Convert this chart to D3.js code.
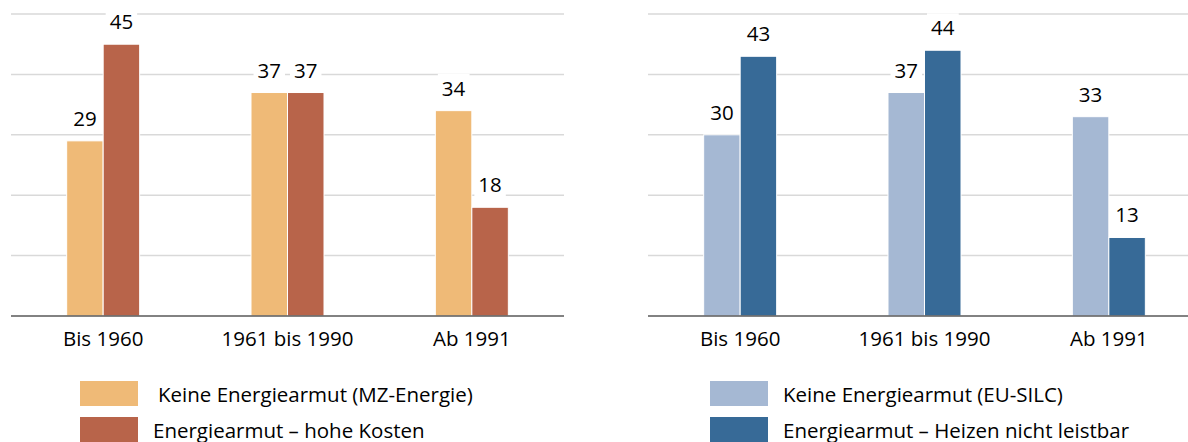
<!DOCTYPE html>
<html>
<head>
<meta charset="utf-8">
<script src="https://cdn.jsdelivr.net/npm/d3@7"></script>
<style>
  body { margin: 0; background: #fff; }
  svg { display: block; font-family: "Open Sans", sans-serif; }
</style>
</head>
<body>
<div id="chart"></div>
<script>
// data
const categories = ["Bis 1960", "1961 bis 1990", "Ab 1991"];
const mzKeine = [29, 37, 34];
const mzKosten = [45, 37, 18];
const silcKeine = [30, 37, 33];
const silcHeizen = [43, 44, 13];
const gridTicks = [10, 20, 30, 40, 50];

const mzLegend = ["Keine Energiearmut (MZ-Energie)", "Energiearmut \u2013 hohe Kosten"];
const silcLegend = ["Keine Energiearmut (EU-SILC)", "Energiearmut \u2013 Heizen nicht leistbar"];

const width = 1188;
const height = 442;
const fontSize = 20.5;

const svg = d3.select("#chart")
  .append("svg")
  .attr("width", width)
  .attr("height", height);

// shared y scale
const y = d3.scaleLinear().domain([0, 50]).range([316, 14]);

function drawPanel(x0Start, x0End, seriesA, seriesB, colors, legendNames, legendX, legendTextX) {
  const g = svg.append("g");

  const x0 = d3.scaleBand()
    .domain(categories)
    .range([x0Start, x0End]);

  const barW = 36.5;
  const x1 = d3.scaleBand()
    .domain([0, 1])
    .range([x0.bandwidth() / 2 - barW, x0.bandwidth() / 2 + barW]);

  // gridlines
  g.selectAll("line.grid")
    .data(gridTicks)
    .enter()
    .append("line")
    .attr("class", "grid")
    .attr("x1", x0Start)
    .attr("x2", x0End)
    .attr("y1", d => y(d))
    .attr("y2", d => y(d))
    .attr("stroke", "#d9d9d9")
    .attr("stroke-width", 1.5);

  // flatten to bar records
  const bars = [];
  categories.forEach((c, i) => {
    bars.push({ cat: c, s: 0, v: seriesA[i] });
    bars.push({ cat: c, s: 1, v: seriesB[i] });
  });

  g.selectAll("rect.bar")
    .data(bars)
    .enter()
    .append("rect")
    .attr("class", "bar")
    .attr("x", d => x0(d.cat) + x1(d.s))
    .attr("y", d => y(d.v))
    .attr("width", x1.bandwidth())
    .attr("height", d => y(0) - y(d.v))
    .attr("fill", d => colors[d.s])
    .attr("stroke", "#fff")
    .attr("stroke-width", 1);

  // baseline
  g.append("line")
    .attr("x1", x0Start)
    .attr("x2", x0End)
    .attr("y1", y(0))
    .attr("y2", y(0))
    .attr("stroke", "#595959")
    .attr("stroke-width", 1.5);

  // value labels with white box over the gridlines
  const labels = g.selectAll("g.vlabel")
    .data(bars)
    .enter()
    .append("g")
    .attr("class", "vlabel")
    .attr("transform", d => `translate(${x0(d.cat) + x1(d.s) + x1.bandwidth() / 2},${y(d.v) - 15})`);

  labels.append("rect")
    .attr("fill", "#fff");

  labels.append("text")
    .attr("text-anchor", "middle")
    .attr("font-size", fontSize)
    .attr("fill", "#000")
    .text(d => d.v);

  labels.each(function() {
    const t = d3.select(this).select("text").node().getBBox();
    d3.select(this).select("rect")
      .attr("x", t.x - 4)
      .attr("y", t.y)
      .attr("width", t.width + 8)
      .attr("height", t.height);
  });

  // category labels
  g.selectAll("text.cat")
    .data(categories)
    .enter()
    .append("text")
    .attr("class", "cat")
    .attr("x", d => x0(d) + x0.bandwidth() / 2)
    .attr("y", 346)
    .attr("text-anchor", "middle")
    .attr("font-size", fontSize)
    .attr("fill", "#000")
    .text(d => d);

  // legend
  const leg = g.selectAll("g.leg")
    .data(legendNames)
    .enter()
    .append("g")
    .attr("class", "leg")
    .attr("transform", (d, i) => `translate(0,${381 + i * 36})`);

  leg.append("rect")
    .attr("x", legendX)
    .attr("y", 0)
    .attr("width", 58)
    .attr("height", 25)
    .attr("fill", (d, i) => colors[i]);

  leg.append("text")
    .attr("x", (d, i) => legendTextX[i])
    .attr("y", 21)
    .attr("font-size", fontSize)
    .attr("fill", "#000")
    .text(d => d);
}

drawPanel(11, 564, mzKeine, mzKosten, ["#efba77", "#b8644a"], mzLegend, 80, [158, 153]);
drawPanel(648, 1201, silcKeine, silcHeizen, ["#a5b8d3", "#376a97"], silcLegend, 710, [783, 783]);
</script>
</body>
</html>
